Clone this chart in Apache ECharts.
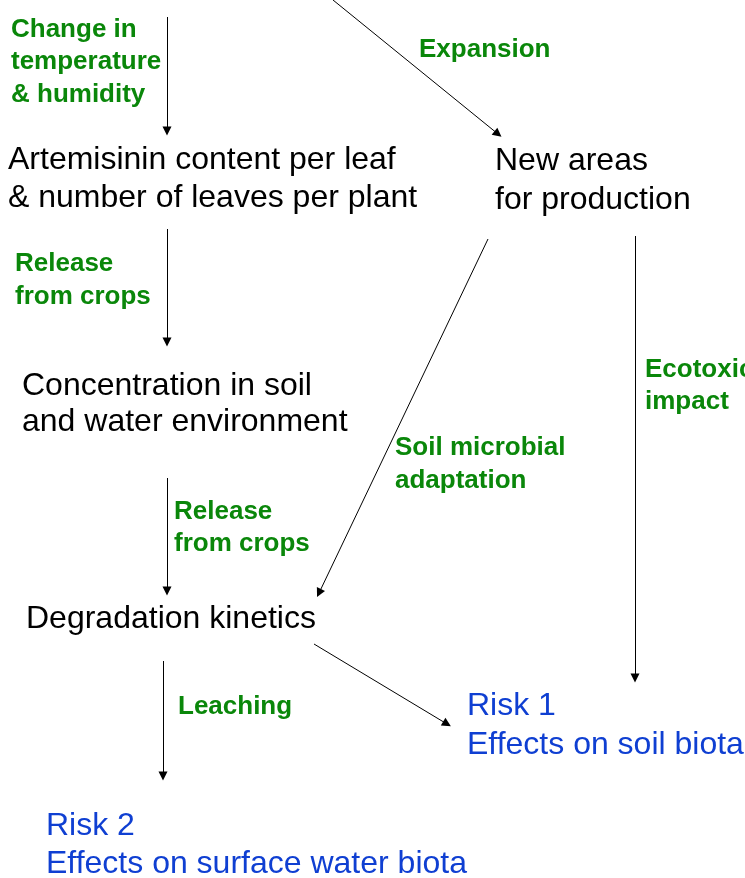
<!DOCTYPE html>
<html>
<head>
<meta charset="utf-8">
<script src="https://cdn.jsdelivr.net/npm/echarts@6/dist/echarts.min.js"></script>
<style>
  html, body { margin: 0; padding: 0; background: #fff; }
  #main { width: 745px; height: 878px; }
</style>
</head>
<body>
<div id="main"></div>
<script>
// 流程图: 节点文字 + 箭头, 坐标系按像素 0..745 / 0..878
var pageW = 745, pageH = 878;

// 绿色过程标签
var processText = ['Change in', 'temperature', '& humidity', 'Expansion', 'Release', 'from crops',
    'Ecotoxic', 'impact', 'Soil microbial', 'adaptation', 'Release', 'from crops', 'Leaching'];
var processXY = [[11, 30], [11, 62], [11, 95], [419, 50], [15, 264], [15, 297],
    [645, 370], [645, 402], [395, 448], [395, 481], [174, 512], [174, 544], [178, 707]];

// 黑色节点
var nodeText = ['Artemisinin content per leaf', '& number of leaves per plant', 'New areas', 'for production',
    'Concentration in soil', 'and water environment', 'Degradation kinetics'];
var nodeXY = [[8, 160], [8, 198], [495, 161], [495, 200], [22, 386], [22, 422], [26, 619]];

// 蓝色风险
var riskText = ['Risk 1', 'Effects on soil biota', 'Risk 2', 'Effects on surface water biota'];
var riskXY = [[467, 706], [467, 745], [46, 826], [46, 864]];

// 箭头 起点 / 终点
var arrowFrom = [[167, 17], [333, 0], [167, 229], [488, 239], [635, 236], [167, 478], [314, 644], [163, 661]];
var arrowTo = [[167, 131], [498, 134], [167, 342], [319, 593], [635, 678], [167, 591], [447, 724], [163, 776]];

function textSeries(names, xy, color, size, weight) {
    return {
        type: 'scatter',
        symbolSize: 0,
        silent: true,
        itemStyle: { opacity: 1 },
        data: names.map(function (n, i) { return { name: n, value: xy[i] }; }),
        label: {
            show: true,
            position: 'right',
            distance: 0,
            formatter: '{b}',
            color: color,
            opacity: 1,
            fontSize: size,
            fontWeight: weight,
            fontFamily: '"Liberation Sans", Arial, sans-serif'
        }
    };
}

var myChart = echarts.init(document.getElementById('main'));
var option = {
    animation: false,
    backgroundColor: '#fff',
    grid: { left: 0, right: 0, top: 0, bottom: 0 },
    xAxis: { type: 'value', min: 0, max: pageW, show: false },
    yAxis: { type: 'value', min: 0, max: pageH, inverse: true, show: false },
    series: [
        {
            type: 'lines',
            coordinateSystem: 'cartesian2d',
            silent: true,
            symbol: ['none', 'triangle'],
            symbolSize: [7, 9],
            lineStyle: { color: '#000', width: 1, opacity: 1 },
            data: arrowFrom.map(function (p, i) { return { coords: [p, arrowTo[i]] }; })
        },
        textSeries(processText, processXY, '#0a870a', 26, 'bold'),
        textSeries(nodeText, nodeXY, '#000', 32, 'normal'),
        textSeries(riskText, riskXY, '#0f3fd2', 32, 'normal')
    ]
};
myChart.setOption(option);
</script>
</body>
</html>
